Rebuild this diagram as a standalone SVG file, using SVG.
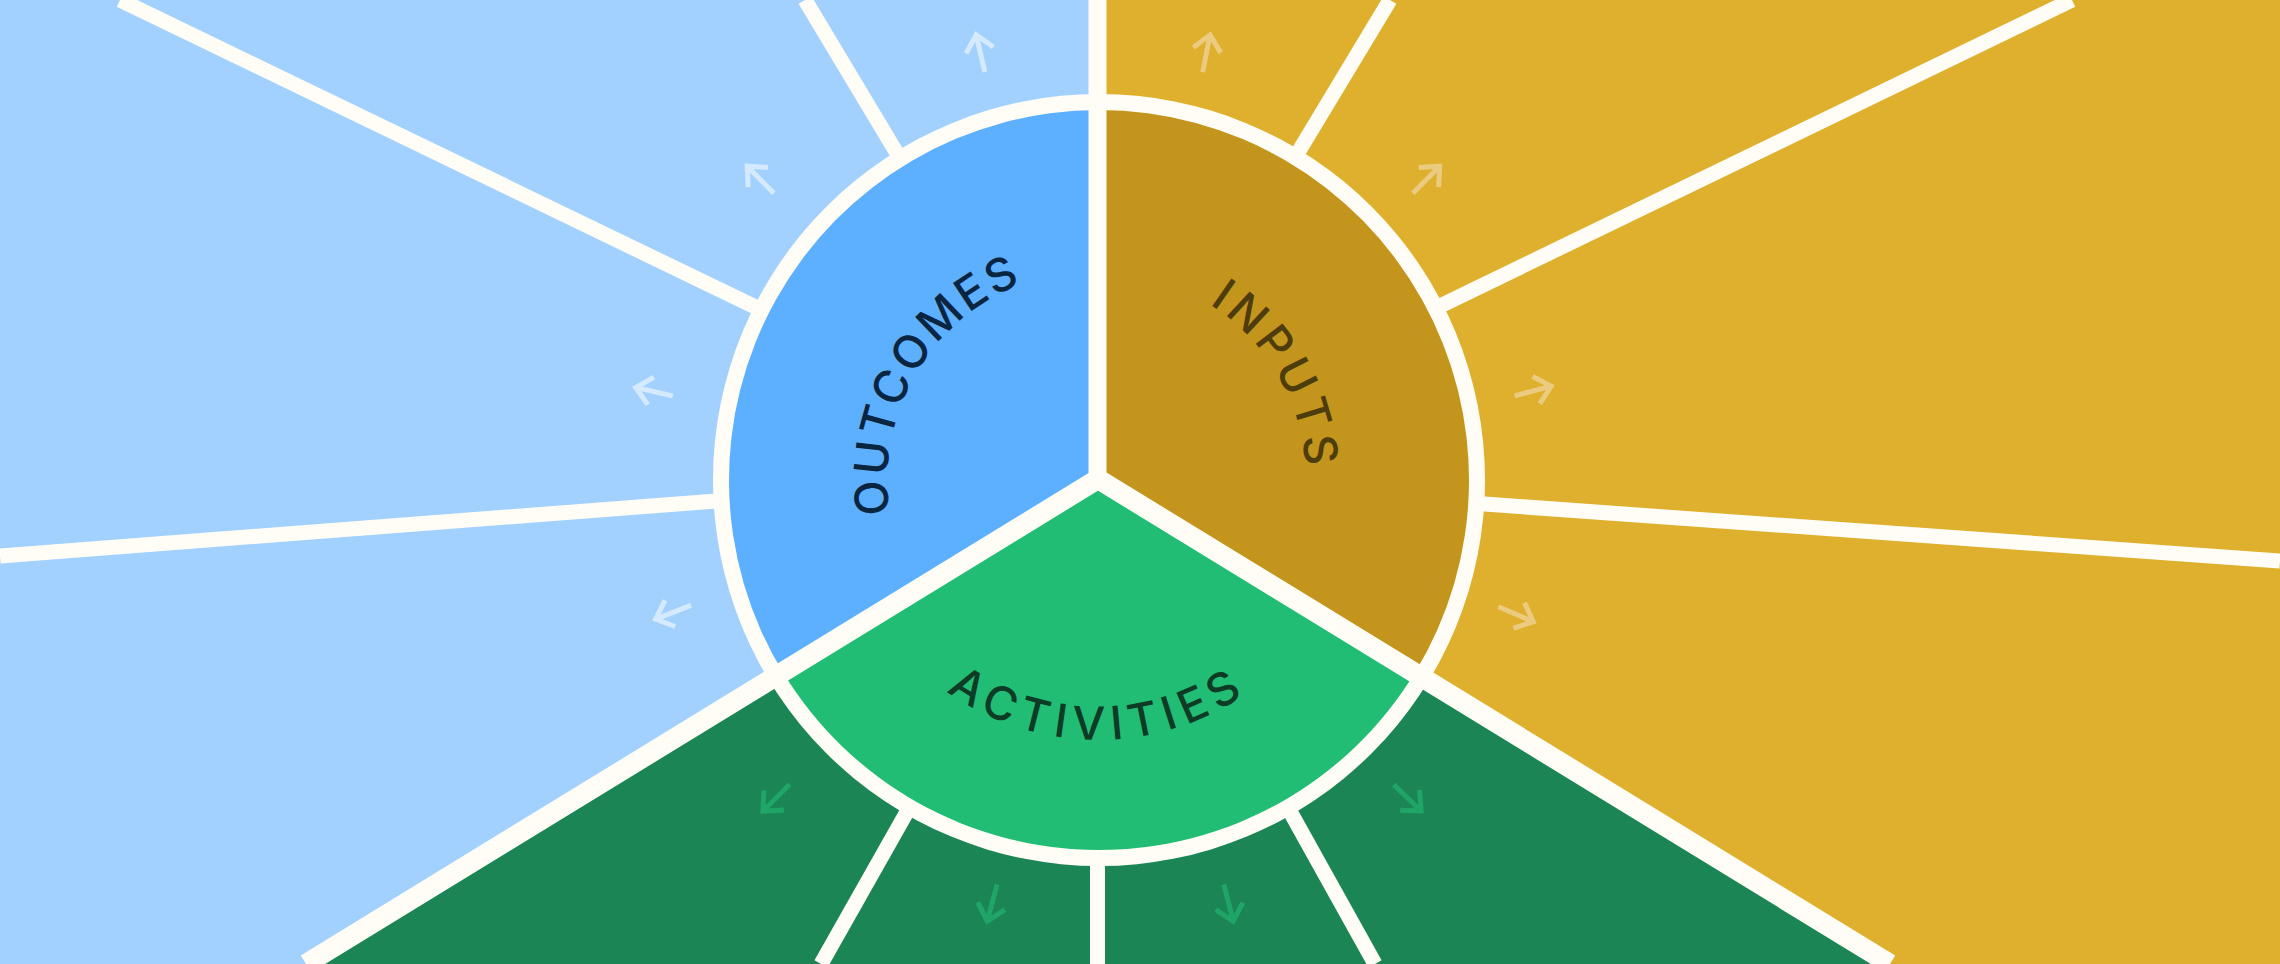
<svg xmlns="http://www.w3.org/2000/svg" width="2280" height="964" viewBox="0 0 2280 964">
<style>
.ray{stroke:#FFFDF5;stroke-width:15;fill:none}
.wl{stroke:#FFFDF5;fill:none}
.lbl{font-family:Inter,"Liberation Sans",sans-serif;font-size:46px;font-weight:500}
.ab{fill:none;stroke-width:5;stroke:#D6EAFF}
.ag{fill:none;stroke-width:5;stroke:#EBCB80}
.ae{fill:none;stroke-width:5;stroke:#1FA567}
</style>
<defs>
<path id="arrow" d="M0 19V-19M-14 -3.4L0 -19L14 -3.4"/>
<path id="pOut" d="M977 652.8A211 211 0 0 1 1187.2 288.8"/>
<path id="pIn" d="M1010.1 291.5A208 208 0 0 1 1217.3 650.4"/>
<path id="pAct" d="M839 502.7A260 260 0 0 0 1357 502.7"/>
</defs>
<g id="background">
<rect x="0" y="0" width="2280" height="964" fill="#A3D1FF"/>
<rect x="1098" y="0" width="1182" height="964" fill="#DFAF2E"/>
<polygon points="1098,479 306,964 1890,964" fill="#1C8556"/>
</g>
<g id="connectors">
<line class="ray" x1="805" y1="0" x2="907" y2="170"/>
<line class="ray" x1="120" y1="0" x2="774" y2="316"/>
<line class="ray" x1="0" y1="556" x2="736" y2="499.5"/>
<line class="ray" x1="821" y1="964" x2="915" y2="797.6"/>
<line class="ray" x1="1390" y1="0" x2="1288.7" y2="168"/>
<line class="ray" x1="2072" y1="0" x2="1424" y2="313.7"/>
<line class="ray" x1="2280" y1="561" x2="1464" y2="502.6"/>
<line class="ray" x1="1375" y1="964" x2="1282.3" y2="797.5"/>
<line class="wl" x1="1097.5" y1="850" x2="1097.5" y2="964" stroke-width="15"/>
</g>
<g id="arrows">
<use href="#arrow" class="ab" transform="translate(980.5 53.5) rotate(-13)"/>
<use href="#arrow" class="ab" transform="translate(760.5 179.7) rotate(-44.7)"/>
<use href="#arrow" class="ab" transform="translate(654.2 391.7) rotate(-77.2)"/>
<use href="#arrow" class="ab" transform="translate(673.3 612.2) rotate(-111.3)"/>
<use href="#arrow" class="ag" transform="translate(1206.4 53.5) rotate(11.2)"/>
<use href="#arrow" class="ag" transform="translate(1426.3 179.7) rotate(44.7)"/>
<use href="#arrow" class="ag" transform="translate(1532.9 391) rotate(75.1)"/>
<use href="#arrow" class="ag" transform="translate(1515.8 614.2) rotate(113.2)"/>
<use href="#arrow" class="ae" transform="translate(776.3 797.8) rotate(-135.3)"/>
<use href="#arrow" class="ae" transform="translate(992.2 902.8) rotate(-164.9)"/>
<use href="#arrow" class="ae" transform="translate(1228.5 902.8) rotate(165.7)"/>
<use href="#arrow" class="ae" transform="translate(1407.4 797.8) rotate(133.8)"/>
</g>
<circle id="ring" cx="1099" cy="480" r="386" fill="#FFFDF5"/>
<g id="outcomes">
<path d="M1099 480L1099 110A370 370 0 0 0 783.2 672.8Z" fill="#5DAFFF"/>
<text class="lbl" fill="#0A2540"><textPath href="#pOut" startOffset="50%" text-anchor="middle" letter-spacing="2.9">OUTCOMES</textPath></text>
</g>
<g id="inputs">
<path d="M1099 480L1099 110A370 370 0 0 1 1414.8 672.8Z" fill="#C4951C"/>
<text class="lbl" fill="#4D3C0C"><textPath href="#pIn" startOffset="50%" text-anchor="middle" letter-spacing="5.1">INPUTS</textPath></text>
</g>
<g id="activities">
<path d="M1099 480L783.2 672.8A370 370 0 0 0 1414.8 672.8Z" fill="#22BD74"/>
<text class="lbl" fill="#0D3B26"><textPath href="#pAct" startOffset="50%" text-anchor="middle" letter-spacing="7.1">ACTIVITIES</textPath></text>
</g>
<g id="dividers">
<line class="wl" x1="1097.5" y1="0" x2="1097.5" y2="480" stroke-width="18"/>
<path class="wl" d="M306 964L1098 479L1890 964" stroke-width="20"/>
</g>
</svg>
